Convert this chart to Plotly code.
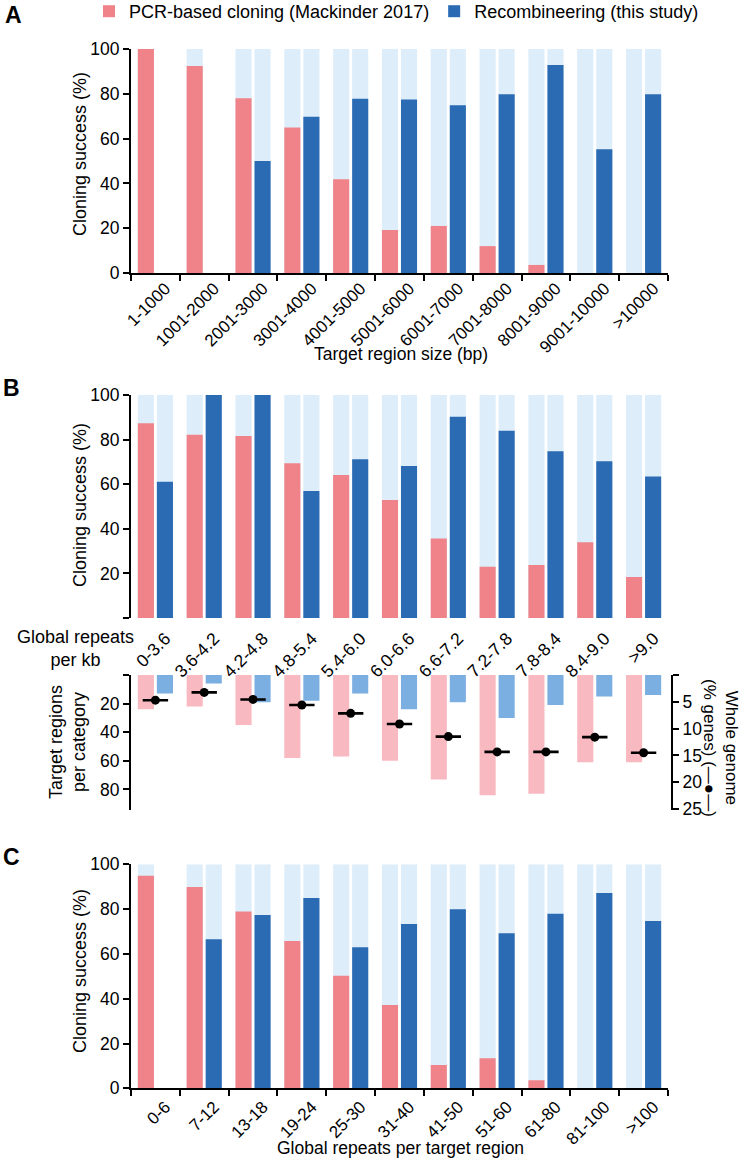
import plotly.graph_objects as go

# ---------------- DATA ----------------
cats_a = ["1-1000", "1001-2000", "2001-3000", "3001-4000", "4001-5000", "5001-6000",
          "6001-7000", "7001-8000", "8001-9000", "9001-10000", ">10000"]
pcr_a = [100, 92.4, 78, 65, 41.8, 19.2, 21, 12, 3.6, 0, 0]
rec_a = [None, None, 50, 69.8, 77.8, 77.5, 74.9, 79.8, 92.9, 55.2, 79.8]

cats_b = ["0-3.6", "3.6-4.2", "4.2-4.8", "4.8-5.4", "5.4-6.0", "6.0-6.6",
          "6.6-7.2", "7.2-7.8", "7.8-8.4", "8.4-9.0", ">9.0"]
pcr_b = [87.3, 82.2, 81.6, 69.4, 64.1, 52.9, 35.7, 23, 23.8, 34, 18.4]
rec_b = [61.1, 100, 100, 57, 71.2, 68.2, 90.3, 84, 74.8, 70.3, 63.4]
pcr_count_b = [24, 22, 35, 58, 57, 60, 73, 84, 83, 61, 61]
rec_count_b = [13, 6, 19, 18, 13, 24, 19, 30, 21, 15, 14]
genome_pct_b = [4.7, 3.25, 4.56, 5.6, 7.16, 9.15, 11.5, 14.35, 14.35, 11.6, 14.5]

cats_c = ["0-6", "7-12", "13-18", "19-24", "25-30", "31-40", "41-50", "51-60",
          "61-80", "81-100", ">100"]
pcr_c = [94.9, 89.9, 78.9, 65.8, 50.3, 37.2, 10.4, 13.4, 3.6, 0, 0]
rec_c = [None, 66.5, 77.4, 85, 63, 73.3, 79.9, 69.2, 77.9, 87.2, 74.7]

# ---------------- STYLE ----------------
PINK = "#F08389"
BLUE = "#2B6BB3"
BG = "#DDEDFA"
LPINK = "#F9B9C1"
MBLUE = "#7BAEE1"
FONT = "Liberation Sans, Arial, sans-serif"
FS = 17.5
W, H = 747, 1160

OFF_P, OFF_R, BW = -0.36, 0.03, 0.33


def px_x(p):
    return p / W


def px_y(p):
    return 1 - p / H


XDOM = [px_x(131), px_x(668)]

fig = go.Figure()


def add_success(cats, pcr, rec, xa, ya, legend):
    bg_p = [100 if v is not None else None for v in pcr]
    bg_r = [100 if v is not None else None for v in rec]
    for y, off in ((bg_p, OFF_P), (bg_r, OFF_R)):
        fig.add_trace(go.Bar(x=cats, y=y, offset=off, width=BW, marker_color=BG,
                             marker_line_width=0, showlegend=False, hoverinfo="skip",
                             xaxis=xa, yaxis=ya))
    fig.add_trace(go.Bar(x=cats, y=pcr, offset=OFF_P, width=BW, marker_color=PINK,
                         marker_line_width=0, name="PCR-based cloning (Mackinder 2017)",
                         showlegend=legend, xaxis=xa, yaxis=ya))
    fig.add_trace(go.Bar(x=cats, y=rec, offset=OFF_R, width=BW, marker_color=BLUE,
                         marker_line_width=0, name="Recombineering (this study)",
                         showlegend=legend, xaxis=xa, yaxis=ya))


add_success(cats_a, pcr_a, rec_a, "x", "y", True)
add_success(cats_b, pcr_b, rec_b, "x2", "y2", False)
add_success(cats_c, pcr_c, rec_c, "x4", "y5", False)

# lower part of B: counts (inverted) and whole genome %
idx_b = list(range(len(cats_b)))
fig.add_trace(go.Bar(x=idx_b, y=pcr_count_b, offset=OFF_P, width=BW, marker_color=LPINK,
                     marker_line_width=0, showlegend=False, xaxis="x3", yaxis="y3"))
fig.add_trace(go.Bar(x=idx_b, y=rec_count_b, offset=OFF_R, width=BW, marker_color=MBLUE,
                     marker_line_width=0, showlegend=False, xaxis="x3", yaxis="y3"))
fig.add_trace(go.Scatter(x=idx_b, y=genome_pct_b, mode="markers",
                         marker=dict(color="black", size=9),
                         error_x=dict(type="constant", value=0.26, thickness=2.6, width=0,
                                      color="black"),
                         showlegend=False, xaxis="x3", yaxis="y4"))

axis_common = dict(showgrid=False, zeroline=False, linecolor="black", linewidth=2,
                   tickcolor="black", tickwidth=2, ticklen=6, automargin=False,
                   tickfont=dict(family=FONT, size=FS, color="black"))

cat_x = dict(axis_common, type="category", showline=True, ticks="outside",
             tickson="boundaries", tickangle=-45, domain=XDOM, ticklabelshift=10,
             tickfont=dict(family=FONT, size=17, color="black"))

fig.update_layout(
    width=W, height=H,
    margin=dict(l=0, r=0, t=0, b=0, autoexpand=False),
    paper_bgcolor="white", plot_bgcolor="white",
    barmode="overlay",
    font=dict(family=FONT, size=FS, color="black"),
    legend=dict(orientation="h", x=px_x(89), y=px_y(-7), xanchor="left", yanchor="top",
                font=dict(family=FONT, size=18, color="black"),
                itemwidth=30, bgcolor="rgba(0,0,0,0)", traceorder="normal"),
    xaxis=dict(cat_x, anchor="y", ticklabelstandoff=-3),
    yaxis=dict(axis_common, domain=[px_y(273), px_y(49)], range=[0, 100],
               tickvals=[0, 20, 40, 60, 80, 100], showline=True, ticks="outside",
               anchor="x"),
    xaxis2=dict(axis_common, type="category", domain=XDOM, anchor="y2", showline=False,
                ticks="", tickangle=-45, ticklabelshift=10, ticklabelstandoff=6),
    yaxis2=dict(axis_common, domain=[px_y(618), px_y(395)], range=[0, 100],
                tickvals=[0, 20, 40, 60, 80, 100],
                ticktext=["", "20", "40", "60", "80", "100"],
                showline=True, ticks="outside", anchor="x2"),
    xaxis3=dict(domain=XDOM, range=[-0.5, 10.5], anchor="y3", visible=False),
    yaxis3=dict(axis_common, domain=[px_y(809.5), px_y(675)], range=[94, 0],
                tickvals=[0, 20, 40, 60, 80], ticktext=["", "20", "40", "60", "80"],
                showline=True, ticks="outside", anchor="x3"),
    yaxis4=dict(axis_common, overlaying="y3", side="right", anchor="free",
                position=px_x(672), range=[25.1, 0],
                tickvals=[0, 5, 10, 15, 20, 25], ticktext=["", "5", "10", "15", "20", "25"],
                showline=True, ticks="outside"),
    xaxis4=dict(cat_x, anchor="y5"),
    yaxis5=dict(axis_common, domain=[px_y(1088.3), px_y(864.3)], range=[0, 100],
                tickvals=[0, 20, 40, 60, 80, 100], showline=True, ticks="outside",
                anchor="x4"),
)


def ann(text, x, y, size=FS, angle=0, bold=False, align="center"):
    if bold:
        text = "<b>" + text + "</b>"
    fig.add_annotation(text=text, x=px_x(x), y=px_y(y), xref="paper", yref="paper",
                       showarrow=False, textangle=angle, align=align,
                       xanchor="center", yanchor="middle",
                       font=dict(family=FONT, size=size, color="black"))


ann("A", 13, 15, size=23, bold=True)
ann("B", 12, 388, size=23, bold=True)
ann("C", 12, 857, size=23, bold=True)

ann("Cloning success (%)", 80, 154, size=18, angle=-90)
ann("Cloning success (%)", 80, 505, size=18, angle=-90)
ann("Cloning success (%)", 80, 971, size=18, angle=-90)
ann("Target regions<br>per category", 67, 742, size=18, angle=-90)
ann("Global repeats<br>per kb", 75, 648, size=18)
ann("Whole genome<br>(% genes) (—●—)", 721, 748, size=17, angle=90)
ann("Target region size (bp)", 401, 354)
ann("Global repeats per target region", 400, 1148)

fig.write_html("out.html", config={"displayModeBar": False},
               post_script="document.body.style.margin='0px';")
